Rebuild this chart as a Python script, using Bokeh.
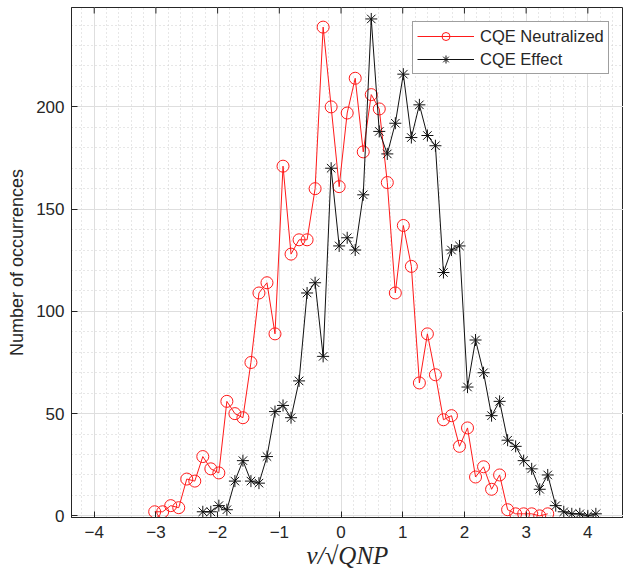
from bokeh.plotting import figure
from bokeh.models import Range1d, SingleIntervalTicker
from bokeh.embed import file_html
from bokeh.resources import INLINE

# bin centres (nu / sqrt(QNP))
x_neutralized = [-3.02, -2.89, -2.76, -2.63, -2.50, -2.37, -2.24, -2.11, -1.98, -1.85,
                 -1.72, -1.59, -1.46, -1.33, -1.20, -1.07, -0.94, -0.81, -0.68, -0.55,
                 -0.42, -0.29, -0.16, -0.03, 0.10, 0.23, 0.36, 0.49, 0.62, 0.75,
                 0.88, 1.01, 1.14, 1.27, 1.40, 1.53, 1.66, 1.79, 1.92, 2.05,
                 2.18, 2.31, 2.44, 2.57, 2.70, 2.83, 2.96, 3.09, 3.22, 3.35]
y_neutralized = [2, 2, 5, 4, 18, 17, 29, 23, 21, 56,
                 50, 48, 75, 109, 114, 89, 171, 128, 135, 135,
                 160, 239, 200, 161, 197, 214, 178, 206, 199, 163,
                 109, 142, 122, 65, 89, 69, 47, 49, 34, 43,
                 19, 24, 13, 20, 3, 1, 1, 1, 0, 1]

x_effect = [-2.24, -2.11, -1.98, -1.85, -1.72, -1.59, -1.46, -1.33, -1.20, -1.07,
            -0.94, -0.81, -0.68, -0.55, -0.42, -0.29, -0.16, -0.03, 0.10, 0.23,
            0.36, 0.49, 0.62, 0.75, 0.88, 1.01, 1.14, 1.27, 1.40, 1.53,
            1.66, 1.79, 1.92, 2.05, 2.18, 2.31, 2.44, 2.57, 2.70, 2.83,
            2.96, 3.09, 3.22, 3.35, 3.48, 3.61, 3.74, 3.87, 4.00, 4.13]
y_effect = [2, 2, 5, 3, 17, 27, 17, 16, 29, 51,
            54, 48, 66, 109, 114, 78, 170, 132, 136, 130,
            157, 243, 188, 177, 192, 216, 185, 201, 186, 181,
            119, 130, 132, 63, 86, 70, 49, 56, 37, 34,
            27, 23, 13, 20, 5, 2, 1, 1, 0, 1]

x_ticks = [-4, -3, -2, -1, 0, 1, 2, 3, 4]
series_names = ["CQE Neutralized", "CQE Effect"]

AX = "#262626"
X_MIN, X_MAX = -4.368, 4.578
Y_MIN, Y_MAX = -0.8, 248.6

BL, BT, BB = 71, 7, 63
W, H = 623, 580

p = figure(width=W, height=H, output_backend="svg", toolbar_location=None,
           x_range=Range1d(X_MIN, X_MAX), y_range=Range1d(Y_MIN, Y_MAX),
           min_border_left=BL, min_border_right=0, min_border_top=BT, min_border_bottom=BB)
p.background_fill_color = "white"
p.border_fill_color = "white"
p.outline_line_color = AX
p.outline_line_width = 1

p.xaxis.ticker = SingleIntervalTicker(interval=1, num_minor_ticks=5)
p.yaxis.ticker = SingleIntervalTicker(interval=50, num_minor_ticks=5)

for ax in (p.xaxis[0], p.yaxis[0]):
    ax.axis_line_color = AX
    ax.major_tick_line_color = AX
    ax.major_tick_in = 6
    ax.major_tick_out = 0
    ax.minor_tick_in = 0
    ax.minor_tick_out = 0
    ax.major_label_text_color = AX
    ax.major_label_text_font = "Liberation Sans"
    ax.major_label_text_font_size = "17px"
    ax.axis_label_text_color = AX

p.xaxis.major_label_standoff = 8
p.yaxis.major_label_standoff = 7

p.yaxis.axis_label = "Number of occurrences"
p.yaxis.axis_label_text_font = "Liberation Sans"
p.yaxis.axis_label_text_font_size = "18px"
p.yaxis.axis_label_text_font_style = "normal"
p.yaxis.axis_label_standoff = 6

p.xaxis.axis_label = "ν/√QNP"
p.xaxis.axis_label_text_font = "Liberation Serif"
p.xaxis.axis_label_text_font_size = "25px"
p.xaxis.axis_label_text_font_style = "italic"
p.xaxis.axis_label_standoff = 1

p.grid.grid_line_color = "#dedede"
p.grid.grid_line_width = 1
p.grid.minor_grid_line_color = "#cfcfcf"
p.grid.minor_grid_line_dash = "1 3"
p.grid.minor_grid_line_width = 1

# mirrored top ticks (box on), 6 px long, derived from the ranges
frame_h = H - BT - BB
tick_len = 6 * (Y_MAX - Y_MIN) / frame_h
p.segment(x0=x_ticks, y0=[Y_MAX] * len(x_ticks), x1=x_ticks,
          y1=[Y_MAX - tick_len] * len(x_ticks), line_color=AX, line_width=1)

RED = "#ff1a1a"
BLK = "#111111"

p.line(x_neutralized, y_neutralized, line_color=RED, line_width=1, legend_label=series_names[0])
p.scatter(x_neutralized, y_neutralized, marker="circle", size=12, fill_color=None,
          line_color=RED, line_width=1, legend_label=series_names[0])
p.line(x_effect, y_effect, line_color=BLK, line_width=1, legend_label=series_names[1])
p.scatter(x_effect, y_effect, marker="asterisk", size=12, line_color=BLK,
          line_width=1, legend_label=series_names[1])

lg = p.legend[0]
lg.location = (341, 443)
lg.label_text_font = "Liberation Sans"
lg.label_text_font_size = "16.5px"
lg.label_text_color = AX
lg.border_line_color = "#404040"
lg.border_line_width = 1
lg.background_fill_color = "white"
lg.background_fill_alpha = 1
lg.glyph_width = 57
lg.glyph_height = 20
lg.label_height = 20
lg.label_standoff = 6
lg.spacing = 3
lg.padding = 4
lg.margin = 0

open("out.html", "w").write(file_html(p, INLINE))
